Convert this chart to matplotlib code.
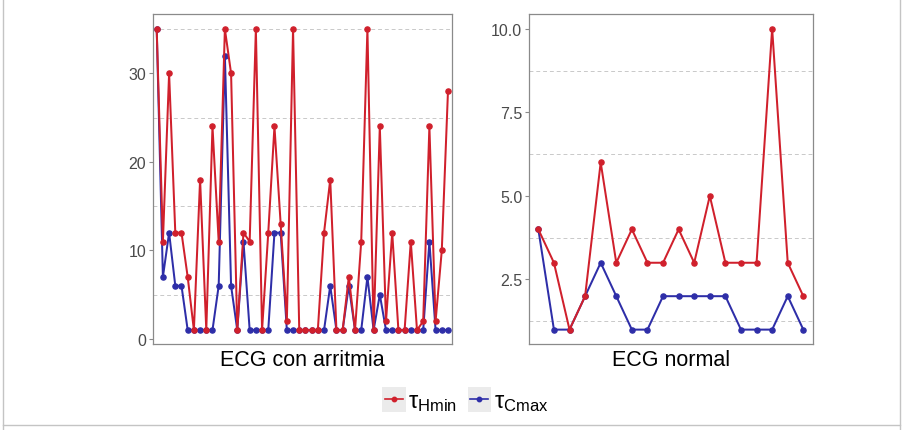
import matplotlib
matplotlib.use("Agg")
import matplotlib.pyplot as plt
from matplotlib.lines import Line2D
from matplotlib.patches import Rectangle
from matplotlib.legend_handler import HandlerBase
from matplotlib.ticker import FixedLocator, FormatStrFormatter

plt.rcParams['font.family'] = ['Liberation Sans', 'DejaVu Sans']
plt.rcParams['mathtext.fontset'] = 'custom'
plt.rcParams['mathtext.rm'] = 'Liberation Sans'
plt.rcParams['mathtext.it'] = 'Liberation Sans:italic'

# ECG with arrhythmia
arr_hmin = [35, 11, 30, 12, 12, 7, 1, 18, 1, 24, 11, 35, 30, 1, 12, 11,
            35, 1, 12, 24, 13, 2, 35, 1, 1, 1, 1, 12, 18, 1, 1, 7,
            1, 11, 35, 1, 24, 2, 12, 1, 1, 11, 1, 2, 24, 2, 10, 28]
arr_cmax = [35, 7, 12, 6, 6, 1, 1, 1, 1, 1, 6, 32, 6, 1, 11, 1,
            1, 1, 1, 12, 12, 1, 1, 1, 1, 1, 1, 1, 6, 1, 1, 6,
            1, 1, 7, 1, 5, 1, 1, 1, 1, 1, 1, 1, 11, 1, 1, 1]

# Normal ECG
nor_hmin = [4, 3, 1, 2, 6, 3, 4, 3, 3, 4, 3, 5, 3, 3, 3, 10, 3, 2]
nor_cmax = [4, 1, 1, 2, 3, 2, 1, 1, 2, 2, 2, 2, 2, 1, 1, 1, 2, 1]

panel_titles = ["ECG con arritmia", "ECG normal"]
series_labels = [r"$\mathrm{τ}_{\mathrm{Hmin}}$", r"$\mathrm{τ}_{\mathrm{Cmax}}$"]

RED = "#D0202C"
BLUE = "#2E2EA8"
GRID = "#C9C9C9"
SPINE = "#8A8A8A"
TICKTXT = "#4A4A4A"

W, H = 904, 431
fig = plt.figure(figsize=(W / 100, H / 100), dpi=100)
fig.patch.set_facecolor("white")


def px_axes(x0, y0, x1, y1):
    return fig.add_axes([x0 / W, 1 - y1 / H, (x1 - x0) / W, (y1 - y0) / H])


axL = px_axes(153.3, 15, 451.7, 345)
axR = px_axes(529.3, 15, 813.3, 345)


def draw_panel(ax, hmin, cmax, ylim, xpad, major, minor, fmt):
    xs = list(range(len(hmin)))
    ax.plot(xs, cmax, color=BLUE, lw=1.45, marker="o", ms=3.7, zorder=3)
    ax.plot(xs, hmin, color=RED, lw=1.45, marker="o", ms=3.7, zorder=4)
    ax.set_xlim(-xpad[0], len(hmin) - 1 + xpad[1])
    ax.set_ylim(*ylim)
    ax.set_xticks([])
    ax.yaxis.set_major_locator(FixedLocator(major))
    ax.yaxis.set_minor_locator(FixedLocator(minor))
    if fmt:
        ax.yaxis.set_major_formatter(FormatStrFormatter(fmt))
    ax.grid(False, which="major")
    ax.grid(True, which="minor", axis="y", color=GRID, lw=0.7,
            ls=(0, (4, 3)), zorder=1)
    ax.tick_params(axis="y", which="major", length=3, width=0.8,
                   color=SPINE, labelsize=11.5, labelcolor=TICKTXT, pad=2)
    ax.tick_params(axis="y", which="minor", length=0)
    for s in ax.spines.values():
        s.set_color(SPINE)
        s.set_linewidth(0.9)


draw_panel(axL, arr_hmin, arr_cmax, (-0.57, 36.7), (0.55, 0.6),
           [0, 10, 20, 30], [5, 15, 25, 35], None)
draw_panel(axR, nor_hmin, nor_cmax, (0.57, 10.44), (0.58, 0.64),
           [2.5, 5.0, 7.5, 10.0], [1.25, 3.75, 6.25, 8.75], "%.1f")

for ax, title in zip([axL, axR], panel_titles):
    bb = ax.get_position()
    fig.text(bb.x0 + bb.width / 2, (H - 366) / H, title, ha="center",
             va="baseline", fontsize=15.5, color="black")


class KeyHandler(HandlerBase):
    def create_artists(self, legend, orig_handle, xdescent, ydescent,
                       width, height, fontsize, trans):
        bg = Rectangle((-xdescent, -ydescent - 0.1 * height), width,
                       height * 1.2, facecolor="#EBEBEB", edgecolor="none",
                       transform=trans)
        y = -ydescent + height / 2
        ln = Line2D([-xdescent + 2, -xdescent + width - 2], [y, y],
                    color=orig_handle.get_color(), lw=1.2, transform=trans)
        mk = Line2D([-xdescent + width / 2], [y], marker="o", ms=3.2,
                    color=orig_handle.get_color(), lw=0, transform=trans)
        return [bg, ln, mk]


handles = [Line2D([], [], color=RED), Line2D([], [], color=BLUE)]
fig.legend(handles, series_labels, loc="center",
           bbox_to_anchor=(465 / W, (H - 402) / H), ncol=2, frameon=False,
           fontsize=17, handler_map={Line2D: KeyHandler()},
           handlelength=1.0, handleheight=1.0, handletextpad=0.1,
           columnspacing=0.45, borderpad=0.2)

# light outer frame
for xs, ys in [([3 / W, 3 / W], [0, 1]),
               ([900 / W, 900 / W], [0, 1]),
               ([3 / W, 900 / W], [(H - 426) / H, (H - 426) / H])]:
    fig.add_artist(Line2D(xs, ys, color="#C4C4C4", lw=1.0))

fig.savefig("out.png", dpi=100)
